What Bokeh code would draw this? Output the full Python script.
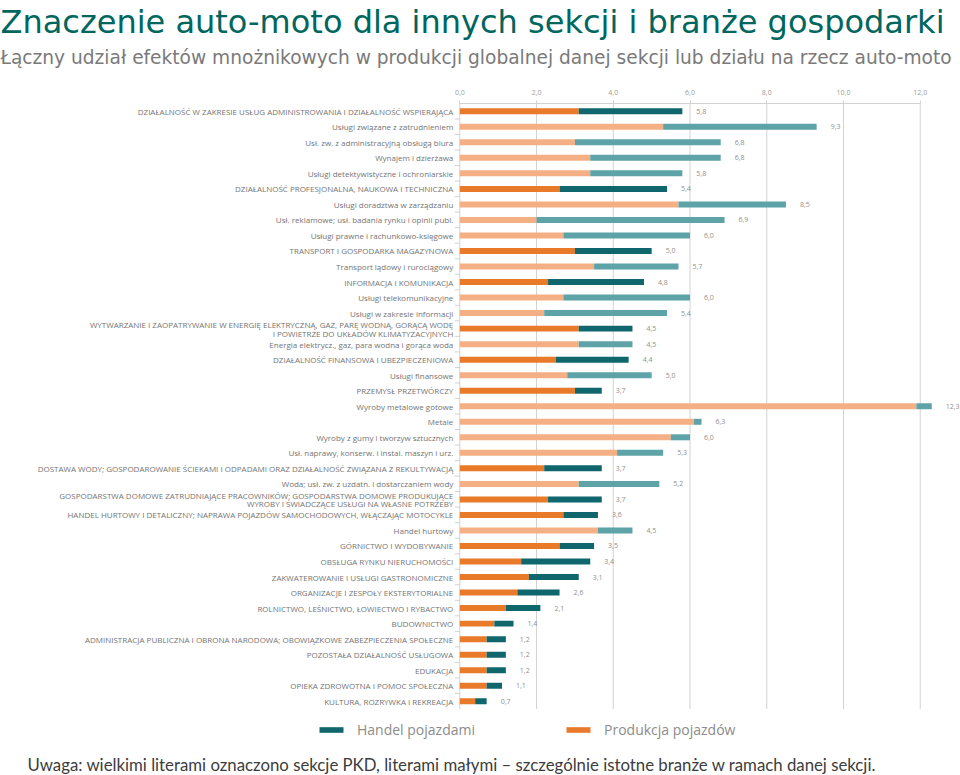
from bokeh.plotting import figure
from bokeh.models import (ColumnDataSource, Range1d, FixedTicker, LinearAxis,
                          CustomJSTickFormatter, Title, Legend, LegendItem, Grid)
from bokeh.core.properties import value
from bokeh.embed import file_html
from bokeh.resources import INLINE

title_text = "Znaczenie auto-moto dla innych sekcji i branże gospodarki"
subtitle_text = ("Łączny udział efektów mnożnikowych w produkcji globalnej danej sekcji "
                 "lub działu na rzecz auto-moto")
footer_text = ("Uwaga: wielkimi literami oznaczono sekcje PKD, literami małymi – "
               "szczególnie istotne branże w ramach danej sekcji.")

categories = [
    "DZIAŁALNOŚĆ W ZAKRESIE USŁUG ADMINISTROWANIA I DZIAŁALNOŚĆ WSPIERAJĄCA",
    "Usługi związane z zatrudnieniem",
    "Usł. zw. z administracyjną obsługą biura",
    "Wynajem i dzierżawa",
    "Usługi detektywistyczne i ochroniarskie",
    "DZIAŁALNOŚĆ PROFESJONALNA, NAUKOWA I TECHNICZNA",
    "Usługi doradztwa w zarządzaniu",
    "Usł. reklamowe; usł. badania rynku i opinii publ.",
    "Usługi prawne i rachunkowo-księgowe",
    "TRANSPORT I GOSPODARKA MAGAZYNOWA",
    "Transport lądowy i rurociągowy",
    "INFORMACJA I KOMUNIKACJA",
    "Usługi telekomunikacyjne",
    "Usługi w zakresie informacji",
    "WYTWARZANIE I ZAOPATRYWANIE W ENERGIĘ ELEKTRYCZNĄ, GAZ, PARĘ WODNĄ, GORĄCĄ WODĘ\nI POWIETRZE DO UKŁADÓW KLIMATYZACYJNYCH",
    "Energia elektrycz., gaz, para wodna i gorąca woda",
    "DZIAŁALNOŚĆ FINANSOWA I UBEZPIECZENIOWA",
    "Usługi finansowe",
    "PRZEMYSŁ PRZETWÓRCZY",
    "Wyroby metalowe gotowe",
    "Metale",
    "Wyroby z gumy i tworzyw sztucznych",
    "Usł. naprawy, konserw. i instal. maszyn i urz.",
    "DOSTAWA WODY; GOSPODAROWANIE ŚCIEKAMI I ODPADAMI ORAZ DZIAŁALNOŚĆ ZWIĄZANA Z REKULTYWACJĄ",
    "Woda; usł. zw. z uzdatn. i dostarczaniem wody",
    "GOSPODARSTWA DOMOWE ZATRUDNIAJĄCE PRACOWNIKÓW; GOSPODARSTWA DOMOWE PRODUKUJĄCE\nWYROBY I ŚWIADCZĄCE USŁUGI NA WŁASNE POTRZEBY",
    "HANDEL HURTOWY I DETALICZNY; NAPRAWA POJAZDÓW SAMOCHODOWYCH, WŁĄCZAJĄC MOTOCYKLE",
    "Handel hurtowy",
    "GÓRNICTWO I WYDOBYWANIE",
    "OBSŁUGA RYNKU NIERUCHOMOŚCI",
    "ZAKWATEROWANIE I USŁUGI GASTRONOMICZNE",
    "ORGANIZACJE I ZESPOŁY EKSTERYTORIALNE",
    "ROLNICTWO, LEŚNICTWO, ŁOWIECTWO I RYBACTWO",
    "BUDOWNICTWO",
    "ADMINISTRACJA PUBLICZNA I OBRONA NARODOWA; OBOWIĄZKOWE ZABEZPIECZENIA SPOŁECZNE",
    "POZOSTAŁA DZIAŁALNOŚĆ USŁUGOWA",
    "EDUKACJA",
    "OPIEKA ZDROWOTNA I POMOC SPOŁECZNA",
    "KULTURA, ROZRYWKA I REKREACJA",
]

production = [3.1, 5.3, 3.0, 3.4, 3.4, 2.6, 5.7, 2.0, 2.7,
              3.0, 3.5, 2.3, 2.7, 2.2, 3.1, 3.1, 2.5, 2.8, 3.0,
              11.9, 6.1, 5.5, 4.1, 2.2, 3.1, 2.3, 2.7, 3.6, 2.6,
              1.6, 1.8, 1.5, 1.2, 0.9, 0.7, 0.7, 0.7, 0.7, 0.4]
trade = [2.7, 4.0, 3.8, 3.4, 2.4, 2.8, 2.8, 4.9, 3.3,
         2.0, 2.2, 2.5, 3.3, 3.2, 1.4, 1.4, 1.9, 2.2, 0.7,
         0.4, 0.2, 0.5, 1.2, 1.5, 2.1, 1.4, 0.9, 0.9, 0.9,
         1.8, 1.3, 1.1, 0.9, 0.5, 0.5, 0.5, 0.5, 0.4, 0.3]

x_ticks = [0, 2, 4, 6, 8, 10, 12]
series_names = ["Handel pojazdami", "Produkcja pojazdów"]

# ---- styling / layout ----
SEC_PROD, SUB_PROD = "#E97A2A", "#F4B084"
SEC_TRADE, SUB_TRADE = "#0F666C", "#5DA3A7"
GRID = "#d2d2d2"

W, H = 960, 775
x0_px, px_per_unit = 459.3, 38.37        # pixel of x=0, pixels per unit
top_border, bottom_border = 103, 24
row_px = 15.55

n = len(categories)
total = [round(a + b, 1) for a, b in zip(production, trade)]
value_labels = [f"{t:.1f}".replace(".", ",") for t in total]
is_section = [c.isupper() for c in categories]
yi = list(range(n))

label_w = [len(s) * 3.1 for s in value_labels]
offsets = []
for t, lw in zip(total, label_w):
    end = x0_px + t * px_per_unit
    offsets.append(min(14.0, W - 2 - lw - end))

src = ColumnDataSource(dict(
    y=yi, cat=categories, prod=production, total=total, lab=value_labels, off=offsets,
    pc=[SEC_PROD if s else SUB_PROD for s in is_section],
    tc=[SEC_TRADE if s else SUB_TRADE for s in is_section],
))

frame_h = H - top_border - bottom_border
y_top = -0.5
y_bottom = y_top + frame_h / row_px

p = figure(width=W, height=H,
           x_range=Range1d(-x0_px / px_per_unit, (W - x0_px) / px_per_unit),
           y_range=Range1d(y_bottom, y_top),
           output_backend="svg", toolbar_location=None,
           x_axis_location=None, y_axis_location=None, title=None,
           min_border_left=0, min_border_right=0,
           min_border_top=top_border, min_border_bottom=bottom_border,
           outline_line_color=None, background_fill_color="white", border_fill_color="white")
for r in list(p.center):
    if isinstance(r, Grid):
        r.visible = False

ticker = FixedTicker(ticks=x_ticks)

# vertical grid lines spanning the category block
p.segment(x0=x_ticks, x1=x_ticks, y0=[y_top] * len(x_ticks), y1=[n - 0.5] * len(x_ticks),
          line_color=GRID, line_width=1)
# small ticks on the category axis
p.scatter(x=[-2.5 / px_per_unit] * (n - 1), y=[i + 0.5 for i in range(n - 1)],
          marker="dash", size=5, line_color=GRID)

ax = LinearAxis(ticker=ticker, bounds=(0, 12),
                formatter=CustomJSTickFormatter(code="return tick.toFixed(1).replace('.', ',');"),
                axis_line_color=GRID, major_tick_line_color=GRID,
                major_tick_out=3, major_tick_in=0, minor_tick_out=0, minor_tick_in=0,
                major_label_text_font="Open Sans", major_label_text_font_size="7px",
                major_label_text_color="#9a9a9a", major_label_standoff=6)
p.add_layout(ax, "above")

spacer = Title(text=" ", text_font_size="1px", standoff=11)
p.add_layout(spacer, "above")
sub = Title(text=subtitle_text, align="left", offset=0, text_font="DejaVu Sans",
            text_font_size="18.6px", text_color="#7a7a7a", text_font_style="normal", standoff=9)
p.add_layout(sub, "above")
ttl = Title(text=title_text, align="left", offset=0, text_font="DejaVu Sans",
            text_font_size="32px", text_color="#00665E", text_font_style="normal", standoff=0)
p.add_layout(ttl, "above")

bar_h = 6.0 / row_px
r_prod = p.hbar(y="y", left=0, right="prod", height=bar_h, fill_color="pc",
                line_color=None, source=src)
r_trade = p.hbar(y="y", left="prod", right="total", height=bar_h, fill_color="tc",
                 line_color=None, source=src)

p.text(x=0, y="y", text="cat", source=src, x_offset=-6.5, text_align="right",
       text_baseline="middle", text_font=value("Open Sans"), text_font_size="8px",
       text_color="#747474", text_line_height=0.8)
p.text(x="total", y="y", text="lab", source=src, x_offset="off", text_align="left",
       text_baseline="middle", text_font=value("Open Sans"), text_font_size="7px",
       text_color="#8f8f8f")

legend = Legend(items=[LegendItem(label=series_names[0], renderers=[r_trade], index=0),
                       LegendItem(label=series_names[1], renderers=[r_prod], index=0)],
                orientation="horizontal", location=(316, 11), glyph_width=30, glyph_height=7,
                label_height=16, label_text_font="Open Sans", label_text_font_size="14px",
                label_text_color="#8c8c8c", spacing=88, label_standoff=11,
                padding=0, margin=0, border_line_color=None, background_fill_alpha=0)
p.add_layout(legend, "center")

foot = Title(text=footer_text, align="left", offset=27, text_font="Lato",
             text_font_size="16.8px", text_color="#3c3c3c", text_font_style="normal", standoff=2)
p.add_layout(foot, "below")

open("out.html", "w").write(file_html(p, INLINE))
